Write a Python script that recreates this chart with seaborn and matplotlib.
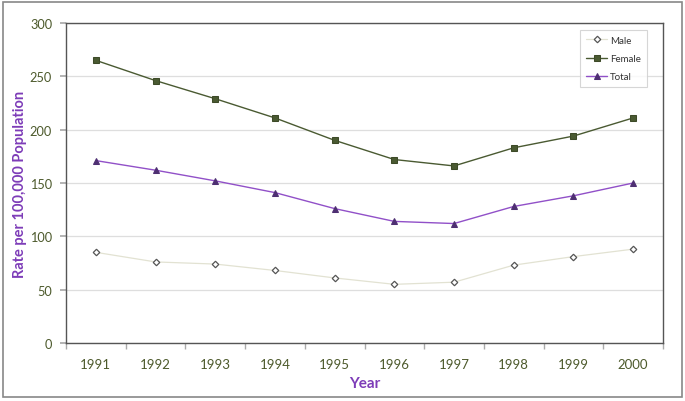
import matplotlib
matplotlib.use("Agg")
import matplotlib.pyplot as plt
import seaborn as sns
import pandas as pd
from matplotlib.patches import Rectangle

years = [1991, 1992, 1993, 1994, 1995, 1996, 1997, 1998, 1999, 2000]
male = [85, 76, 74, 68, 61, 55, 57, 73, 81, 88]
female = [265, 246, 229, 211, 190, 172, 166, 183, 194, 211]
total = [171, 162, 152, 141, 126, 114, 112, 128, 138, 150]
y_ticks = [0, 50, 100, 150, 200, 250, 300]

sns.set_theme(style="white")
plt.rcParams['font.family'] = ['Lato', 'DejaVu Sans']

fig = plt.figure(figsize=(6.85, 4.02), dpi=100)
ax = fig.add_axes([66/685, 58/402, 597/685, 320/402])

tick_color = "#4d5a2c"
label_color = "#7d3cb8"

series = [
    ("Male", male, dict(color="#e2e2d2", marker="D", markersize=3.3, markerfacecolor="white",
                        markeredgecolor="#555555", markeredgewidth=0.9, linewidth=0.9)),
    ("Female", female, dict(color="#4a5a32", marker="s", markersize=4.5, markerfacecolor="#4a5a32",
                            markeredgecolor="#3d4a28", linewidth=1.0)),
    ("Total", total, dict(color="#9150c8", marker="^", markersize=4.8, markerfacecolor="#4e2f72",
                          markeredgecolor="#4e2f72", linewidth=1.0)),
]
for name, vals, kw in series:
    df = pd.DataFrame({"Year": years, "Rate": vals})
    sns.lineplot(data=df, x="Year", y="Rate", ax=ax, label=name, **kw)

ax.set_xlim(1990.5, 2000.5)
ax.set_ylim(0, 300)
ax.set_yticks(y_ticks)
ax.set_xticks(years)
ax.set_xticklabels([str(y) for y in years])
ax.set_xticks([y + 0.5 for y in [1990] + years], minor=True)
ax.tick_params(axis="x", which="major", length=0, pad=11, labelsize=9.5, labelcolor=tick_color)
ax.tick_params(axis="x", which="minor", length=4, color="#aaaaaa", direction="out", bottom=True)
ax.tick_params(axis="y", which="major", length=4, color="#aaaaaa", direction="out", left=True,
               labelsize=9.2, labelcolor=tick_color, pad=6)

ax.yaxis.grid(True, color="#dedede", linewidth=0.9)
ax.set_axisbelow(True)
for s in ax.spines.values():
    s.set_visible(True)
    s.set_color("#555555")
    s.set_linewidth(1.0)

ax.set_xlabel("Year", fontsize=11, fontweight="bold", color=label_color)
ax.xaxis.set_label_coords(0.5, -0.103)
ax.set_ylabel("Rate per 100,000 Population", fontsize=10.5, fontweight="bold", color=label_color)
ax.yaxis.set_label_coords(-0.066, 0.5)

leg = ax.legend(loc="upper right", bbox_to_anchor=(0.973, 0.978), borderaxespad=0, fontsize=7,
                frameon=True, fancybox=False, edgecolor="#cccccc", handlelength=2.2, borderpad=0.6,
                labelspacing=0.95, handletextpad=0.3)
leg.get_frame().set_linewidth(0.8)
for t in leg.get_texts():
    t.set_color("#333333")

fig.patches.append(Rectangle((3/685, 4/402), 679/685, 395/402, transform=fig.transFigure,
                             fill=False, edgecolor="#888888", linewidth=1.2))

fig.savefig("out.png", dpi=100)
